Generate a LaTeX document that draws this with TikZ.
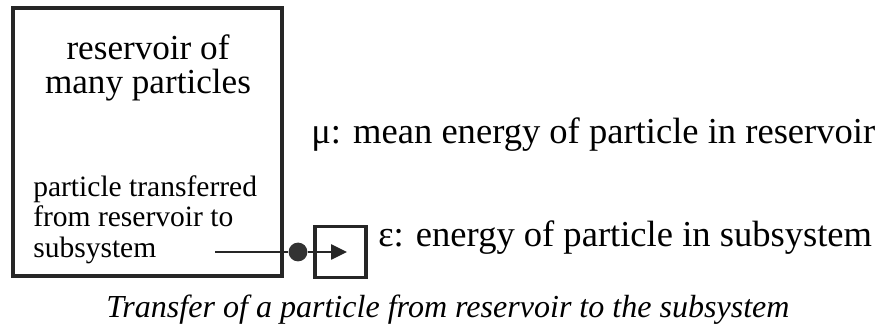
\documentclass[tikz,border=0pt]{standalone}
\usepackage{fontspec}
\setmainfont{Liberation Serif}
\usetikzlibrary{arrows.meta, positioning, calc}

\begin{document}
\begin{tikzpicture}

\tikzset{
  resbox/.style={draw=black!85, line width=2.4pt, minimum width=6.725cm, minimum height=6.7cm, inner sep=0pt},
  subbox/.style={draw=black!85, line width=2.4pt, minimum width=1.275cm, minimum height=1.275cm, inner sep=0pt},
  particle/.style={circle, fill=black!80, minimum size=0.47cm, inner sep=0pt},
  title/.style={font=\fontsize{25}{24}\selectfont, align=center, inner sep=0pt},
  note/.style={font=\fontsize{21}{21.8}\selectfont, align=left, inner sep=0pt},
  lbl/.style={font=\fontsize{26}{30}\selectfont, inner sep=0pt},
  link/.style={line width=1.4pt, black!85},
  flow/.style={-{Triangle[length=0.4cm, width=0.38cm]}, line width=1.4pt, black!85}
}

\useasboundingbox (0,0) rectangle (22.175,8.2);

%reservoir
\node[resbox] (res) at (3.685,4.65) {};
\node[title] (ttl) at (3.7,6.5) {reservoir of\\many particles};
\node[note, anchor=west] (nt) at (0.825,2.71) {particle transferred\\from reservoir to\\subsystem};

%subsystem
\node[subbox] (sub) at (8.5125,1.9) {};
\node[particle] (p) at (7.45,1.9) {};
\coordinate (src) at (5.375,1.9);
\coordinate (tip) at (8.675,1.9);
\draw[link] (src) -- (p);
\draw[flow] (p) -- (tip);

%labels
\node[lbl, anchor=base west] (mu) at (7.775,4.6) {μ: mean energy of particle in reservoir};
\node[lbl, anchor=base west] (eps) at (9.45,2.025) {ε: energy of particle in subsystem};
\node[font=\fontsize{22.8}{26}\selectfont\itshape, anchor=base, inner sep=0pt] (cap) at (11.2,0.275) {Transfer of a particle from reservoir to the subsystem};
\end{tikzpicture}
\end{document}
